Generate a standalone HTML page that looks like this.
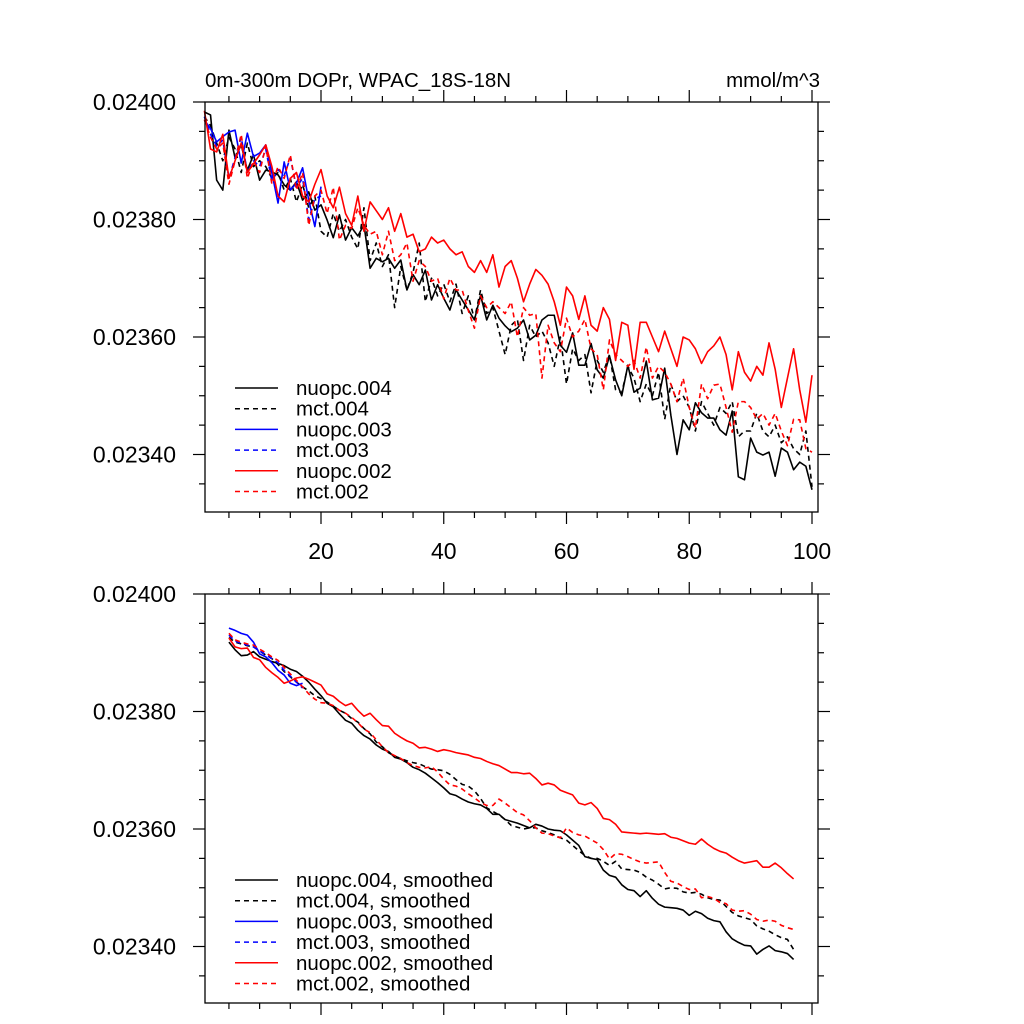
<!DOCTYPE html>
<html><head><meta charset="utf-8"><style>
html,body{margin:0;padding:0;background:#fff;}
svg{display:block;font-family:"Liberation Sans",sans-serif;}
</style></head><body>
<svg id="chart" width="1024" height="1024" viewBox="0 0 1024 1024" xmlns="http://www.w3.org/2000/svg">
<rect width="1024" height="1024" fill="#fff"/>
<text x="205" y="87" font-size="20.5">0m-300m DOPr, WPAC_18S-18N</text>
<text x="820" y="87" font-size="20.5" text-anchor="end">mmol/m^3</text>
</svg>
<script>
// ---- data (values in units of 1e-5 mmol/m^3) ----
const yTicks = [0.02400, 0.02380, 0.02360, 0.02340];
const yTickLabels = ["0.02400", "0.02380", "0.02360", "0.02340"];
const xTicks = [20, 40, 60, 80, 100];
const xTickLabels = ["20", "40", "60", "80", "100"];
const seriesNames = ["nuopc.004", "mct.004", "nuopc.003", "mct.003", "nuopc.002", "mct.002"];
const rawStartX = 1;
const smoothStartX = 5;
const raw_nuopc004 = [2398.3,2397.8,2386.7,2385.0,2395.2,2390.5,2392.7,2388.4,2391.0,2386.7,2388.4,2388.1,2387.6,2385.9,2385.0,2386.4,2383.3,2384.7,2381.6,2382.5,2379.9,2376.9,2380.8,2376.5,2378.6,2377.2,2379.1,2371.7,2373.4,2372.8,2373.4,2371.7,2373.1,2368.0,2370.6,2368.9,2371.4,2366.3,2368.9,2366.6,2364.6,2368.0,2366.3,2364.6,2362.9,2367.1,2362.9,2365.4,2363.2,2361.9,2360.9,2361.5,2362.9,2359.5,2360.3,2362.9,2363.7,2363.7,2358.6,2357.4,2360.7,2355.2,2355.2,2358.9,2354.4,2353.0,2356.8,2352.7,2350.0,2355.2,2350.6,2351.3,2355.9,2349.3,2349.6,2354.7,2346.7,2340.0,2345.9,2344.2,2348.8,2347.1,2346.2,2346.2,2344.2,2343.3,2347.4,2336.2,2335.7,2342.8,2340.4,2339.9,2340.4,2336.3,2341.1,2340.4,2337.4,2338.7,2338.0,2334.0];
const raw_mct004 = [2397.5,2396,2393,2390,2394,2392,2388,2393,2389,2390,2389,2387,2388,2385,2387,2383,2386,2382,2384,2378,2377,2381,2378,2380,2377,2375,2382,2373,2376,2372,2374,2365,2372,2368,2371,2376,2366,2370,2367,2369,2366,2369,2364,2367,2363,2368,2364,2365,2361,2357,2362,2363,2356,2362,2360,2361,2359,2355,2360,2352,2358,2356,2357,2350.5,2356,2354,2357,2351,2350.5,2355,2353,2349,2352,2350,2354,2346,2352,2349,2350,2348,2344,2349,2347,2345,2348,2347,2349,2343,2344,2344,2347,2344,2343,2345,2342,2343,2341,2340,2344,2334.5];
const raw_nuopc003 = [2396.9,2395.5,2393.2,2394.1,2394.9,2395.2,2389.6,2394.7,2390.7,2391.3,2392.7,2387.9,2382.8,2389.8,2385.0,2386.2,2388.8,2383.3,2378.8,2385.6];
const raw_mct003 = [2397.5,2394.5,2392.5,2393.5,2387,2390.5,2394,2388,2390,2389,2392,2386.5,2388.5,2387.5,2390.5,2385.5,2387,2380,2383.5,2384];
const raw_nuopc002 = [2398.5,2392,2391.5,2394.5,2387,2390,2393,2388,2389.5,2391,2392.7,2389,2384,2383,2387,2388,2384,2383,2386,2388.5,2384,2382,2385.5,2381,2379,2384,2378,2383,2381.5,2380,2382,2378,2381,2377,2377.5,2374.5,2375,2377,2376,2376.5,2375,2374,2374.5,2372,2371,2373,2371,2374,2368.5,2372,2373,2370,2366,2369,2371.5,2370.5,2369,2366,2362,2368.5,2367,2363,2367,2362,2361,2365,2363,2356,2362.5,2362,2354.5,2362.5,2362.5,2360,2357.5,2361,2358,2355,2360,2359.5,2358,2355.5,2357.5,2358.5,2360,2357,2351,2357.5,2354,2352.5,2355,2353.5,2359,2354.5,2348,2353,2358,2351,2345.5,2353.5];
const raw_mct002 = [2397,2394,2392,2393,2386,2390,2394.5,2387,2390,2388,2392.5,2386,2389,2387,2391,2385,2388,2379,2384,2385,2381,2385.5,2376.5,2379,2378.5,2382,2379,2377.5,2378,2374,2378,2373,2374,2376,2369.5,2373,2372,2369.5,2370,2366.5,2370,2368,2368,2364.5,2361.5,2367,2365,2366,2365,2364,2366,2360,2365,2363.7,2364,2353,2362,2359,2357.5,2363.2,2360,2361,2363,2358,2357,2351,2359.5,2357,2356,2355,2356,2353,2358.3,2353,2355,2354,2352,2349,2353,2348,2344.5,2352,2349.5,2351.8,2352,2348,2343.8,2349,2349,2348,2346,2347,2345,2347,2344,2341.5,2346,2345.9,2341,2340.4];
const sm_nuopc004 = [2391.8,2390.5,2389.5,2389.6,2390.2,2389.3,2388.9,2388.5,2388.2,2387.8,2387.2,2386.8,2386,2385,2383.8,2382.7,2381.4,2380.8,2379.6,2378.5,2378,2376.8,2375.9,2375.3,2374.3,2373.6,2373.2,2372.2,2371.9,2371.3,2370.5,2370.1,2369.5,2368.7,2367.9,2367,2366,2365.7,2365.1,2364.6,2364.3,2364.1,2363.5,2362.5,2362.5,2361.6,2361.3,2361,2360.6,2360.2,2360.8,2360.5,2360,2359.8,2359.7,2359,2358.1,2357.2,2355.3,2355,2354.8,2353,2352.1,2351.8,2350.5,2349.7,2349.5,2348.5,2349.5,2348.2,2347.2,2346.7,2346.6,2346.5,2346.2,2345.3,2346,2345.6,2344.8,2344.4,2344.2,2342.5,2341.3,2340.7,2340.2,2340.1,2338.7,2339.5,2340.1,2339.3,2339.1,2338.8,2337.8];
const sm_mct004 = [2392.6,2391.8,2391.5,2391.2,2391,2390.3,2389.6,2389,2388,2386.8,2385.9,2385,2384.2,2383.5,2382.7,2382.2,2381.6,2380.9,2380.2,2379.7,2378.8,2378.2,2377.1,2376.2,2374.8,2374,2373,2372.4,2372,2371.6,2371.3,2371.1,2370.6,2370.2,2370.1,2369.9,2369.3,2368.4,2367.6,2367.3,2366.5,2365.2,2363.6,2363,2362.4,2361.6,2360.6,2360.3,2360,2360.2,2360.2,2359.7,2359.4,2359,2358.5,2358.1,2357.2,2356.3,2355.5,2355,2355,2354.5,2353.8,2354.5,2353.2,2353.1,2353,2352.6,2351.8,2351.3,2350.6,2349.8,2350,2349.9,2349.3,2349.1,2349.2,2348.9,2348.3,2348,2347.9,2346.8,2345.8,2345.2,2344.9,2344.6,2343.5,2343,2342.6,2342,2341.5,2341.2,2339.5];
const sm_nuopc003 = [2394.2,2393.8,2393.3,2393,2391.8,2389.8,2389.3,2388.3,2387,2386.2,2384.8,2384.4,2384.8];
const sm_mct003 = [2393,2392,2391.6,2391.3,2391,2390.3,2389.7,2389,2388.3,2387,2386,2385,2384];
const sm_nuopc002 = [2392.5,2391,2390.7,2390.8,2389.2,2388.8,2387.5,2386.6,2385.8,2384.8,2385.2,2385.7,2385.9,2385.5,2385,2384.5,2383,2382.6,2381.7,2381,2381.4,2380.2,2379.2,2379.7,2378.6,2377.6,2377.5,2376.3,2375.6,2375,2374.6,2373.8,2373.9,2373.6,2373.2,2373.5,2373.3,2373,2372.8,2372.6,2372.2,2372,2371.5,2371.1,2370.8,2370.2,2369.6,2369.6,2369.4,2369.5,2368.6,2367.5,2367.8,2367.5,2366.6,2366.2,2365.8,2364.4,2364.1,2364.5,2363.5,2361.8,2361.6,2360.8,2359.5,2359.4,2359.3,2359.2,2359.3,2359.2,2359.1,2359.2,2358.6,2358.4,2358,2357.6,2357.4,2358.3,2357.4,2356.7,2356.2,2355.9,2355.2,2354.6,2354.2,2354.4,2354.6,2353.5,2353.5,2354.2,2353.4,2352.4,2351.5];
const sm_mct002 = [2393.3,2392.2,2391.8,2391.5,2391.3,2390.6,2390,2389.3,2388.7,2387.5,2386.4,2385.3,2384.2,2383,2382.1,2381.5,2381.4,2381,2380.2,2379.7,2379,2378.1,2377,2376.4,2375.2,2374,2373,2372.5,2372,2371.3,2370.8,2370.5,2370.4,2370.6,2369.7,2368.5,2367.5,2367.3,2366.8,2366,2365.3,2364.5,2364,2364,2365.1,2364.4,2363.6,2362.8,2362.4,2361.4,2360.2,2359.3,2359.2,2358.8,2358.5,2360.2,2359.4,2359,2358.8,2358.2,2357.6,2356.5,2354.9,2355.8,2355.7,2355.3,2354.8,2354.4,2354.2,2354.3,2354.4,2352.6,2351.1,2350.8,2350.2,2349.7,2349.8,2348.3,2348.5,2348.2,2347.5,2347.3,2346.2,2346,2346.1,2345.5,2344.6,2344.3,2344.5,2344.3,2343.6,2343.2,2342.9];
const valueScale = 1e-5;

const NS = "http://www.w3.org/2000/svg";
const svg = document.getElementById("chart");
function mk(tag, attrs, parent) {
  const e = document.createElementNS(NS, tag);
  for (const k in attrs) e.setAttribute(k, attrs[k]);
  (parent || svg).appendChild(e);
  return e;
}
const X0 = 205, X1 = 818;
function xScale(v) { return 198.25 + (v) * 6.1375; }
function makeY(top) { return v => top + (0.02400 - v) / 0.0002 * 117.5; }

const styles = [
  {color:"#000", dash:null}, {color:"#000", dash:"5,4"},
  {color:"#0000ff", dash:null}, {color:"#0000ff", dash:"5,4"},
  {color:"#ff0000", dash:null}, {color:"#ff0000", dash:"5,4"}
];

function drawPanel(top, bottom, series, startX, legendLabels, legendTop, showXLabels, pname) {
  const yS = makeY(top);
  const g = mk("g", {});
  
  
  series.forEach((arr, si) => {
    const pts = arr.map((v, i) => xScale(startX + i).toFixed(2) + "," + yS(v * valueScale).toFixed(2)).join(" ");
    const pl = mk("polyline", {points: pts, fill: "none", stroke: styles[si].color, "stroke-width": 1.6, "stroke-linejoin": "round"}, g);
    if (styles[si].dash) pl.setAttribute("stroke-dasharray", styles[si].dash);
    
    
  });
  const fr = mk("rect", {x: X0, y: top, width: X1 - X0, height: bottom - top, fill: "none", stroke: "#000", "stroke-width": 1.3}, g);
  
  
  for (let k = 0; k < 20; k++) {
    const v = 0.02400 - k * 0.00005;
    const y = yS(v);
    if (y > bottom + 0.5) break;
    const major = k % 4 === 0;
    const L = major ? 12 : 6;
    mk("line", {x1: X0 - L, y1: y, x2: X0, y2: y, stroke: "#000", "stroke-width": 1.2}, g);
    mk("line", {x1: X1, y1: y, x2: X1 + L, y2: y, stroke: "#000", "stroke-width": 1.2}, g);
  }
  yTicks.forEach((v, i) => {
    const t = mk("text", {x: 176, y: yS(v) + 8, "font-size": 23, "text-anchor": "end"}, g);
    t.textContent = yTickLabels[i];
    
    
  });
  for (let xv = 5; xv <= 100; xv += 5) {
    const x = xScale(xv);
    const major = xv % 20 === 0;
    const L = major ? 12 : 6;
    mk("line", {x1: x, y1: bottom, x2: x, y2: bottom + L, stroke: "#000", "stroke-width": 1.2}, g);
    mk("line", {x1: x, y1: top - L, x2: x, y2: top, stroke: "#000", "stroke-width": 1.2}, g);
  }
  if (showXLabels) {
    xTicks.forEach((v, i) => {
      const t = mk("text", {x: xScale(v), y: bottom + 47, "font-size": 23, "text-anchor": "middle"}, g);
      t.textContent = xTickLabels[i];
      
      
    });
  }
  const lg = mk("g", {}, g);
  
  
  legendLabels.forEach((lab, i) => {
    const y = legendTop + i * 20.7;
    const ln = mk("line", {x1: 235, y1: y, x2: 278, y2: y, stroke: styles[i].color, "stroke-width": 1.5}, lg);
    if (styles[i].dash) ln.setAttribute("stroke-dasharray", "5,4");
    const t = mk("text", {x: 296, y: y + 7, "font-size": 20.5}, lg);
    t.textContent = lab;
    
    
  });
}

drawPanel(102, 512, [raw_nuopc004, raw_mct004, raw_nuopc003, raw_mct003, raw_nuopc002, raw_mct002], rawStartX,
  seriesNames, 388, true, "top-panel");
drawPanel(594, 1003, [sm_nuopc004, sm_mct004, sm_nuopc003, sm_mct003, sm_nuopc002, sm_mct002], smoothStartX,
  seriesNames.map(s => s + ", smoothed"), 880, false, "bottom-panel");
</script>
</body></html>
